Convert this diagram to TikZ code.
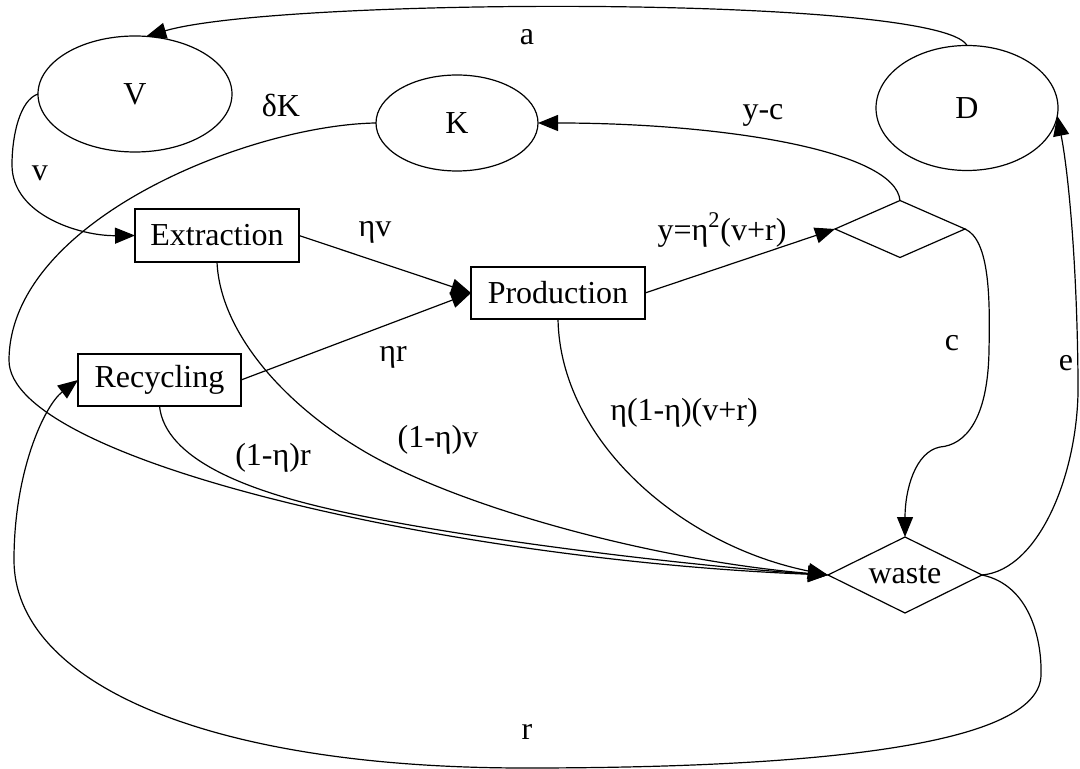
\documentclass[tikz,border=0pt]{standalone}
\usepackage{fontspec}
\setmainfont{Liberation Serif}
\usetikzlibrary{shapes.geometric,arrows.meta}
\begin{document}
\begin{tikzpicture}[x=0.5pt,y=-0.5pt,
  every node/.style={font=\fontsize{16}{19}\selectfont, inner sep=0pt, outer sep=0pt},
  ell/.style={draw, ellipse, line width=0.6pt},
  box/.style={draw, rectangle, line width=0.6pt},
  dia/.style={draw, diamond, shape aspect=2, line width=0.6pt},
  flow/.style={line width=0.6pt, -{Triangle[length=10pt,width=8pt]}}]
\useasboundingbox (0,0) rectangle (1080,769);
% nodes
\node[ell, minimum width=97pt, minimum height=58pt] (V) at (135,94) {V};
\node[ell, minimum width=81pt, minimum height=48pt] (K) at (457,123) {K};
\node[ell, minimum width=91pt, minimum height=62.5pt] (D) at (967,108) {D};
\node[box, minimum width=82pt, minimum height=26.5pt] (Extraction) at (217,235.5) {Extraction};
\node[box, minimum width=87pt, minimum height=26pt] (Production) at (558,293) {Production};
\node[box, minimum width=81.5pt, minimum height=26pt] (Recycling) at (159.5,380) {Recycling};
\node[dia, minimum width=65pt, minimum height=28.5pt] (top) at (900,229) {};
\node[dia, minimum width=77pt, minimum height=38pt] (waste) at (905,575) {waste};
% edges
\draw[flow] (D.north) .. controls (940,-5) and (280,-3) .. (V.79);
\draw[flow] (K.west) .. controls (250,125) and (10,220) .. (9,360) .. controls (8,460) and (450,560) .. (waste.west);
\draw[flow] (V.west) .. controls (20,100) and (12,135) .. (12,165) .. controls (12,215) and (80,236) .. (Extraction.west);
\draw[flow] (Extraction.east) -- (Production.west);
\draw[flow] (Recycling.east) -- (Production.west);
\draw[flow] (Production.east) -- (top.west);
\draw[flow] (top.north) .. controls (895,150) and (720,123) .. (K.east);
\draw[flow] (top.east) .. controls (990,240) and (990,300) .. (989,350) .. controls (988,420) and (965,445) .. (940,447) .. controls (915,452) and (905,490) .. (waste.north);
\draw[flow] (Extraction.south) .. controls (220,330) and (280,400) .. (357,447) .. controls (450,505) and (650,560) .. (waste.west);
\draw[flow] (Recycling.south) .. controls (165,460) and (250,490) .. (321,507) .. controls (450,538) and (700,567) .. (waste.west);
\draw[flow] (Production.south) .. controls (560,440) and (680,545) .. (waste.west);
\draw[flow] (waste.east) .. controls (1040,570) and (1080,470) .. (1078,380) .. controls (1077,260) and (1068,170) .. (D.-5);
\draw[flow] (waste.east) .. controls (1030,585) and (1042,640) .. (1041,675) .. controls (1040,740) and (850,768) .. (525,768) .. controls (200,768) and (14,680) .. (14,560) .. controls (14,470) and (45,405) .. (Recycling.west);
% labels
\node (la) at (527,37) {a};
\node (ldk) at (281,105) {δK};
\node (lyc) at (763,115) {y-c};
\node (lv) at (40,173) {v};
\node (lnv) at (375,232) {ηv};
\node (ly) at (722,230) {y=η\textsuperscript{2}(v+r)};
\node (lnr) at (393,357) {ηr};
\node (l1r) at (273,458) {(1-η)r};
\node (l1v) at (438,440) {(1-η)v};
\node (lp) at (684,413) {η(1-η)(v+r)};
\node (lc) at (952,343) {c};
\node (le) at (1066,363) {e};
\node (lr) at (527,732) {r};
\end{tikzpicture}
\end{document}
